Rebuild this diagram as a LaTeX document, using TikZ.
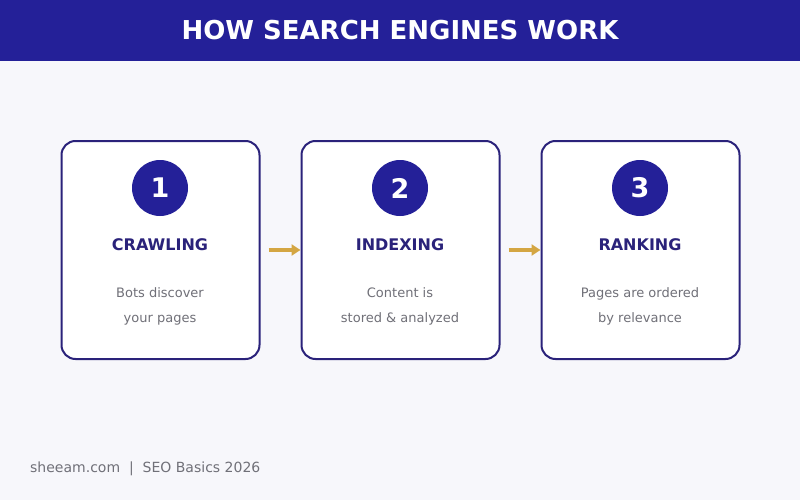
\documentclass[tikz,border=0pt]{standalone}
\usepackage{fontspec}
\setmainfont{DejaVu Sans}
\usetikzlibrary{arrows.meta,positioning,calc}
\definecolor{navy}{RGB}{36,32,152}
\definecolor{boxline}{RGB}{42,34,122}
\definecolor{gold}{RGB}{212,166,66}
\definecolor{softgray}{RGB}{112,112,120}
\definecolor{pagebg}{RGB}{247,247,251}
\tikzset{
  stepbox/.style={draw=boxline,line width=2pt,fill=white,rounded corners=14pt,
    minimum width=198pt,minimum height=218pt,inner sep=0pt},
  badge/.style={circle,fill=navy,minimum size=56pt,inner sep=0pt,
    text=white,font=\bfseries\fontsize{27}{27}\selectfont},
  steptitle/.style={text=boxline,font=\bfseries\fontsize{16}{16}\selectfont},
  stepnote/.style={text=softgray,align=center,font=\fontsize{13}{25}\selectfont},
  flow/.style={-{Triangle[length=9pt,width=11pt]},gold,line width=4pt,shorten <=8pt}
}
\begin{document}
\begin{tikzpicture}[x=1pt,y=-1pt]
\useasboundingbox (0,0) rectangle (800,500);
\fill[pagebg] (0,0) rectangle (800,500);
\fill[navy] (0,0) rectangle (800,61);
\node[text=white,font=\bfseries\fontsize{26}{26}\selectfont] (title) at (400,30) {HOW SEARCH ENGINES WORK};
% the three steps
\node[stepbox] (crawl) at (160.5,250) {};
\node[stepbox] (index) at (400.5,250) {};
\node[stepbox] (rank) at (640.5,250) {};
\node[badge] (n1) at (160,188) {1};
\node[badge] (n2) at (400,188) {2};
\node[badge] (n3) at (640,188) {3};
\node[steptitle] (t1) at (160,245) {CRAWLING};
\node[steptitle] (t2) at (400,245) {INDEXING};
\node[steptitle] (t3) at (640,245) {RANKING};
\node[stepnote] (d1) at (160,306) {Bots discover\\your pages};
\node[stepnote] (d2) at (400,306) {Content is\\stored \& analyzed};
\node[stepnote] (d3) at (640,306) {Pages are ordered\\by relevance};
\draw[flow] (crawl.east) -- (index.west);
\draw[flow] (index.east) -- (rank.west);
\node[anchor=west,text=softgray,font=\fontsize{14}{14}\selectfont,inner sep=0pt] (foot) at (30,469) {sheeam.com\ \ |\ \ SEO Basics 2026};
\end{tikzpicture}
\end{document}
